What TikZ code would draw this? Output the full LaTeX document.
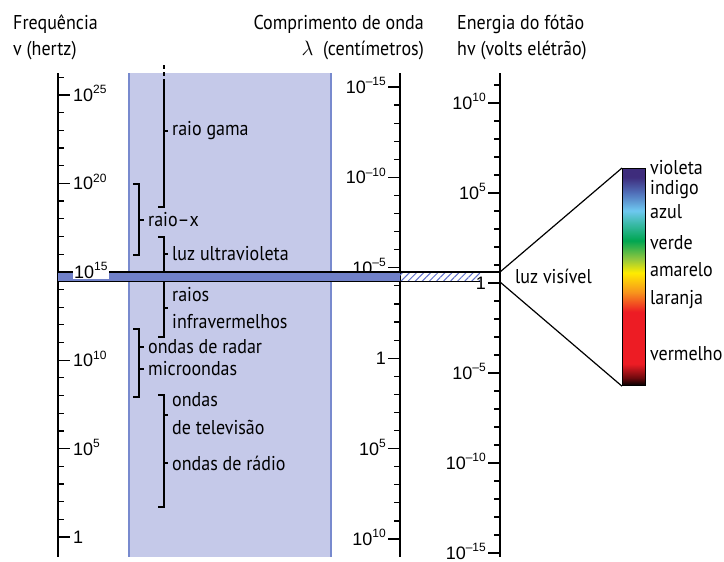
\documentclass[tikz,border=0pt]{standalone}
\usepackage{fontspec}
\setmainfont{PT Sans}[FakeStretch=0.9]
\newfontfamily\tickfont{Liberation Sans}
\usetikzlibrary{patterns.meta}
\definecolor{bandfill}{RGB}{197,201,233}
\definecolor{bandedge}{RGB}{120,138,206}
\definecolor{stripblue}{RGB}{112,128,200}
\definecolor{hatchblue}{RGB}{96,112,204}
\definecolor{spviolet}{RGB}{62,44,124}
\definecolor{spindigo}{RGB}{80,110,184}
\definecolor{spblue}{RGB}{110,200,240}
\definecolor{spteal}{RGB}{60,186,170}
\definecolor{spgreen}{RGB}{0,166,81}
\definecolor{splime}{RGB}{141,198,63}
\definecolor{spyellow}{RGB}{255,236,0}
\definecolor{sporange}{RGB}{247,148,29}
\definecolor{spred}{RGB}{237,28,36}
\definecolor{spdark}{RGB}{110,10,14}
\pgfdeclareverticalshading{spectrum}{100bp}{color(0bp)=(black); color(25bp)=(black);
  color(26.8bp)=(spdark); color(30bp)=(spred); color(42bp)=(spred);
  color(46.5bp)=(sporange); color(51bp)=(spyellow); color(54.3bp)=(splime);
  color(58.4bp)=(spgreen); color(62.4bp)=(spteal); color(65.3bp)=(spblue);
  color(69.5bp)=(spindigo); color(73bp)=(spviolet); color(75bp)=(spviolet); color(100bp)=(spviolet)}
\newcommand{\tenpow}[1]{10\raisebox{0.42em}{\fontsize{12}{12}\selectfont #1}}
\tikzset{
    axisline/.style={line width=1.6pt},
    tickline/.style={line width=1.2pt},
    bracket/.style={line width=1.4pt},
    lbl/.style={font=\fontsize{20}{22}\selectfont, inner sep=0pt, anchor=west},
    head/.style={font=\fontsize{20}{22}\selectfont, inner sep=0pt},
    ticklbl/.style={font=\tickfont\fontsize{18}{18}\selectfont, inner sep=0pt}
}
\begin{document}
\begin{tikzpicture}[x=1pt, y=-1pt]
        \useasboundingbox
            (0,0) rectangle (724,562);
        \fill 
            [bandfill] (129,73) rectangle (331,557);
        \draw 
            [bandedge, line width=1.2pt] (129,73)--(129,557) (331,73)--(331,557);
        \node (fqhead) [head, anchor=base west] at (13,30) {Frequência};
        \node (fqunit) [head, anchor=base west] at (13,55) {v (hertz)};
        \node (wlhead) [head, anchor=base east] at (424,30) {Comprimento de onda};
        \node (wlunit) [head, anchor=base east] at (424,55) {$\lambda$\ \ (centímetros)};
        \node (enhead) [head, anchor=base west] at (457,30) {Energia do fótão};
        \node (enunit) [head, anchor=base west] at (457,55) {hv (volts elétrão)};
        \draw 
            [axisline] (58,73)--(58,557);
        \foreach \k in {0,...,26}
            \draw [tickline] (58,{77.3+17.68*\k})--++(6,0);
        \foreach \k/\t in {1/\tenpow{25},6/\tenpow{20},16/\tenpow{10},21/\tenpow{5},26/1}{
            \draw [tickline] (58,{77.3+17.68*\k})--++(12,0);
            \node (fq\k) [ticklbl, anchor=base west] at (73,{77.3+17.68*\k+6.5}) {\t};
        }
        \draw 
            [axisline] (400,73)--(400,557);
        \foreach \k in {0,...,25}
            \draw [tickline] (400,{87+18.08*\k})--++(-6,0);
        \foreach \k/\t in {0/\tenpow{–15},5/\tenpow{–10},10/\tenpow{–5},15/1,20/\tenpow{5},25/\tenpow{10}}{
            \draw [tickline] (400,{87+18.08*\k})--++(-12,0);
            \node (wl\k) [ticklbl, anchor=base east] at (386,{87+18.08*\k+6.5}) {\t};
        }
        \draw 
            [axisline] (500,73)--(500,557);
        \foreach \k in {0,...,26}
            \draw [tickline] (500,{85+18*\k})--++(-6,0);
        \foreach \k/\t in {1/\tenpow{10},6/\tenpow{5},11/1,16/\tenpow{–5},21/\tenpow{–10},26/\tenpow{–15}}{
            \draw [tickline] (500,{85+18*\k})--++(-12,0);
            \node (en\k) [ticklbl, anchor=base east] at (486,{85+18*\k+6.5}) {\t};
        }
        \draw 
            [bracket, dashed, dash pattern=on 4pt off 3pt] (164,65)--(164,80);
        \draw 
            [bracket] (164,80)--(164,207)--(158,207) (164,131)--(168,131);
        \node (gama) [lbl] at (172,131) {raio gama};
        \draw 
            [bracket] (133,184)--(139,184)--(139,255)--(133,255) (139,220)--(144,220);
        \node (raiox) [lbl] at (148,220) {raio–x};
        \draw 
            [bracket] (158,237)--(164,237)--(164,337)--(158,337) (164,254)--(168,254) (164,308)--(168,308);
        \node (uv) [lbl] at (172,254) {luz ultravioleta};
        \node (ir) [lbl, align=left, font=\fontsize{20}{27}\selectfont] at (172,308) {raios\\infravermelhos};
        \draw 
            [bracket] (133,329)--(139,329)--(139,397)--(133,397) (139,347)--(144,347) (139,369)--(144,369);
        \node (radar) [lbl] at (148,347) {ondas de radar};
        \node (micro) [lbl] at (148,369) {microondas};
        \draw 
            [bracket] (158,395)--(164,395)--(164,507)--(158,507) (164,415)--(168,415) (164,463)--(168,463);
        \node (tv) [lbl, align=left, font=\fontsize{20}{28}\selectfont] at (172,414) {ondas\\de televisão};
        \node (radio) [lbl] at (172,463) {ondas de rádio};
        \fill 
            [stripblue] (58,272) rectangle (400,281.5);
        \fill 
            [pattern={Lines[angle=45, distance=5pt, line width=1pt]}, pattern color=hatchblue] (400,272) rectangle (480,281.5);
        \draw 
            [line width=1.3pt] (58,272)--(500,272) (58,281.5)--(480,281.5);
        \node (fq11) [ticklbl, anchor=base west, fill=white, inner sep=1pt] at (73,{77.3+17.68*11+6.5}) {\tenpow{15}};
        \coordinate (vistop) at (500,272);
        \coordinate (visbot) at (500,282);
        \node (spec) [draw, line width=1.2pt, shade, shading=spectrum, minimum width=23pt, minimum height=217pt, inner sep=0pt, anchor=north west] at (622,168) {};
        \draw 
            [line width=1.2pt] (vistop)--(spec.north west) (visbot)--(spec.south west);
        \node (vis) [lbl] at (515,276) {luz visível};
        \node (violeta) [lbl] at (650,168) {violeta};
        \node (indigo) [lbl] at (650,190) {indigo};
        \node (azul) [lbl] at (650,212) {azul};
        \node (verde) [lbl] at (650,243) {verde};
        \node (amarelo) [lbl] at (650,270) {amarelo};
        \node (laranja) [lbl] at (650,300) {laranja};
        \node (vermelho) [lbl] at (650,354) {vermelho};
    \end{tikzpicture}
\end{document}
